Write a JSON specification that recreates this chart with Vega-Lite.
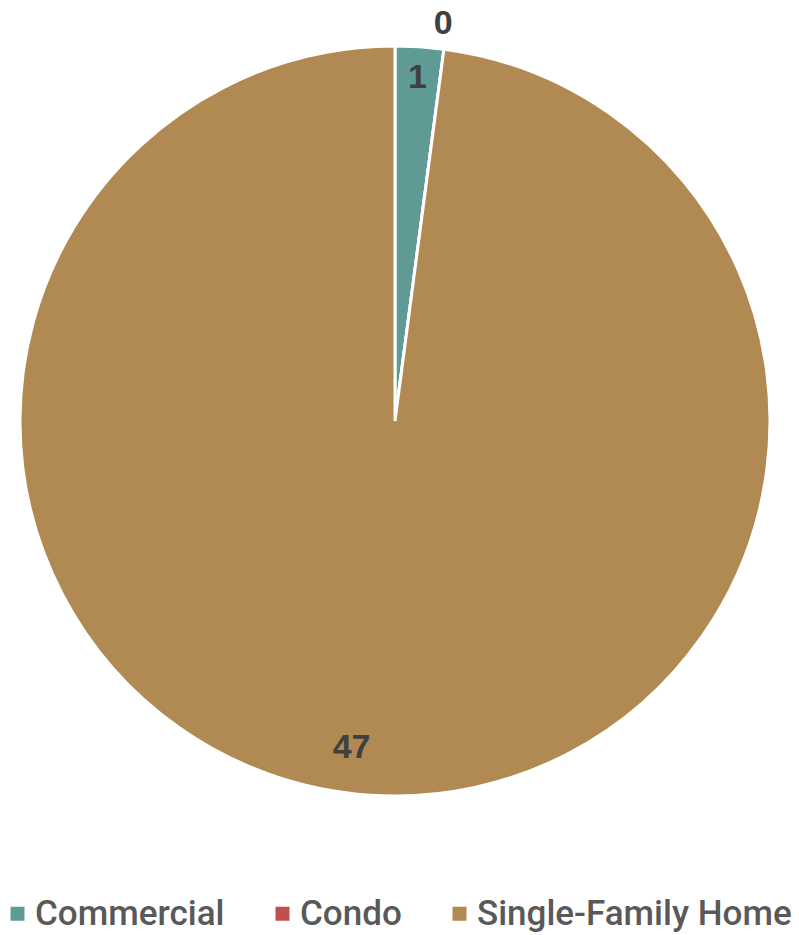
{
  "$schema": "https://vega.github.io/schema/vega-lite/v6.json",
  "width": 780,
  "height": 842,
  "padding": 0,
  "autosize": {"type": "pad"},
  "background": "white",
  "data": {"values": [
    {"type": "Commercial", "count": 1},
    {"type": "Condo", "count": 0},
    {"type": "Single-Family Home", "count": 47}
  ]},
  "encoding": {
    "theta": {"field": "count", "type": "quantitative", "stack": true, "sort": null},
    "order": {"field": "type", "sort": "ascending"}
  },
  "layer": [
    {
      "mark": {"type": "arc", "outerRadius": 375, "stroke": "white", "strokeWidth": 3},
      "encoding": {
        "color": {
          "field": "type", "type": "nominal",
          "scale": {"domain": ["Commercial", "Condo", "Single-Family Home"], "range": ["#5F9A94", "#C0504D", "#B08A52"]},
          "legend": {
            "title": null, "orient": "none", "direction": "horizontal",
            "legendX": -5, "legendY": 896, "padding": 0,
            "symbolType": "square", "symbolSize": 196, "symbolStrokeWidth": 0,
            "labelFont": "Roboto", "labelFontWeight": 500, "labelFontSize": 35, "labelColor": "#595959",
            "labelOffset": 0, "columnPadding": 40, "labelLimit": 400
          }
        }
      }
    },
    {
      "mark": {"type": "text", "radius": 344, "font": "Liberation Sans", "fontWeight": "bold", "fontSize": 34, "fill": "#404040", "baseline": "middle", "align": "center"},
      "encoding": {
        "text": {"condition": {"test": "datum.type === 'Commercial'", "field": "count"}, "value": ""}
      }
    },
    {
      "mark": {"type": "text", "radius": 400, "font": "Liberation Sans", "fontWeight": "bold", "fontSize": 34, "fill": "#404040", "baseline": "middle", "align": "center", "dx": -4},
      "encoding": {
        "text": {"condition": {"test": "datum.type === 'Condo'", "field": "count"}, "value": ""}
      }
    },
    {
      "mark": {"type": "text", "radius": 328, "font": "Liberation Sans", "fontWeight": "bold", "fontSize": 34, "fill": "#404040", "baseline": "middle", "align": "center", "dx": -22},
      "encoding": {
        "text": {"condition": {"test": "datum.type === 'Single-Family Home'", "field": "count"}, "value": ""}
      }
    }
  ],
  "config": {"view": {"stroke": null}}
}
